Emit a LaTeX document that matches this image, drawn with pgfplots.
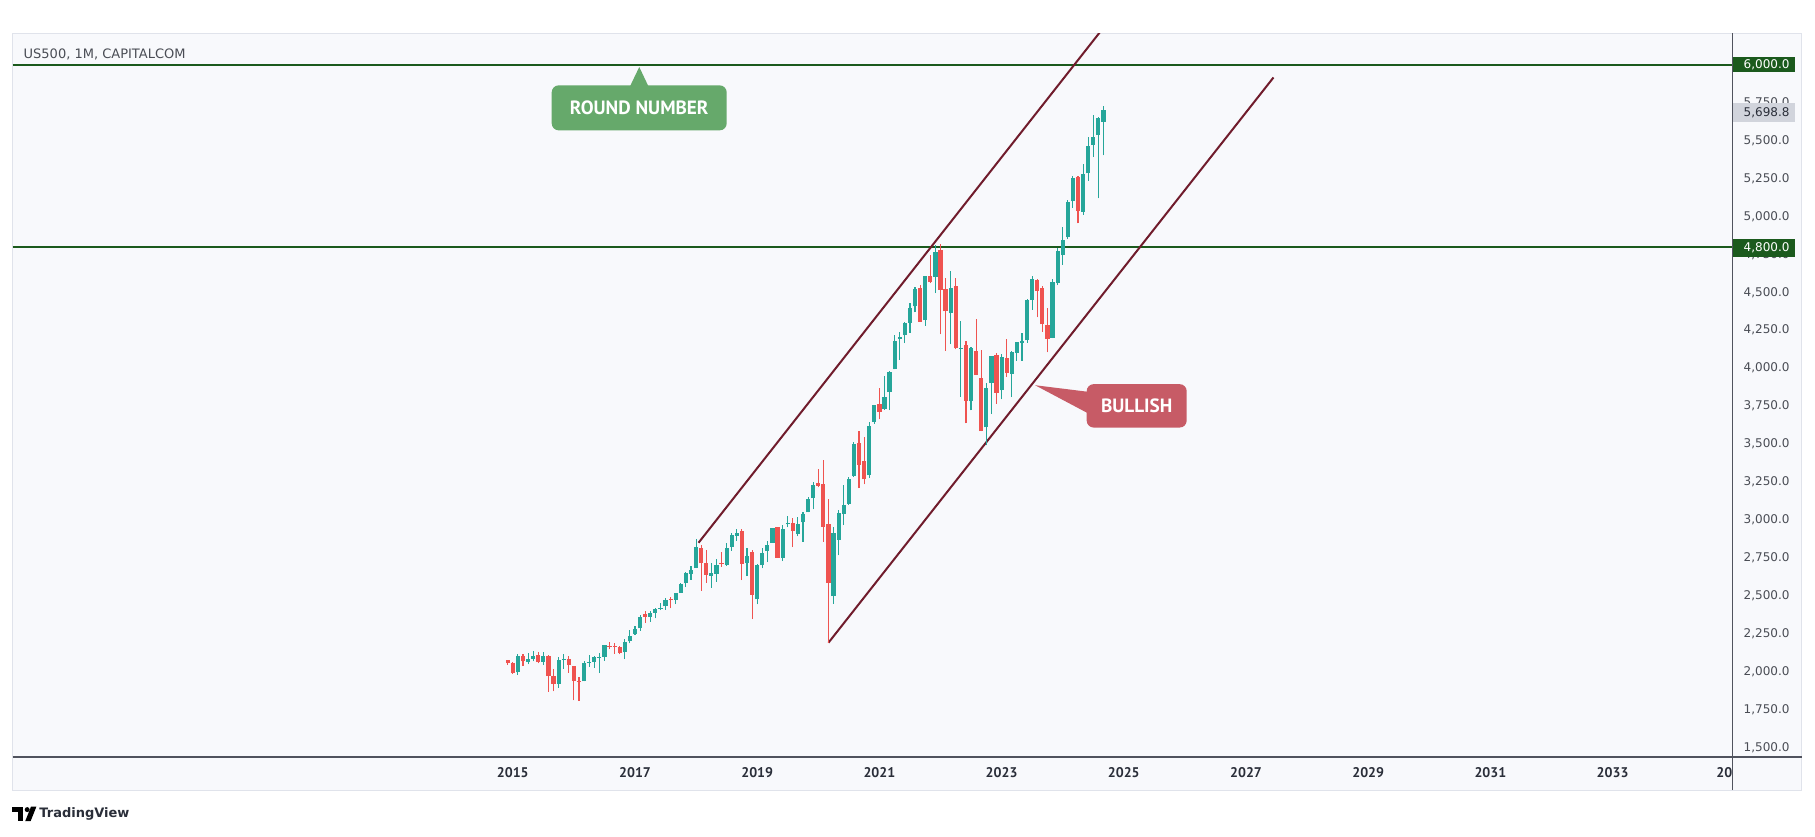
\documentclass[border=0pt]{standalone}
\usepackage{fontspec}
\setmainfont{DejaVu Sans}
\newfontfamily\ptsans{PT Sans}
\usepackage{pgfplots}
\pgfplotsset{compat=1.18}
\usepackage{pgfplotstable}
\definecolor{tvup}{HTML}{26A69A}
\definecolor{tvdown}{HTML}{EF5350}
\definecolor{chan}{HTML}{701C2C}
\definecolor{hl}{HTML}{1B5A1D}
\definecolor{rngreen}{HTML}{66A96B}
\definecolor{bullred}{HTML}{C75B66}
\definecolor{panebg}{HTML}{F8F9FC}
\definecolor{paneborder}{HTML}{E0E3EB}
\definecolor{axline}{HTML}{50535E}
\definecolor{axgray}{HTML}{4A4D55}
\definecolor{axtext}{HTML}{2A2E39}
\definecolor{lastbg}{HTML}{D1D4DC}

% monthly candles, US500 (yr, mo, open, high, low, close)
\pgfplotstableread{
yr mo o h l c
2015 2 1996.7 2119.6 1980.9 2104.5
2015 4 2067.6 2125.9 2048.4 2085.5
2015 5 2087.4 2134.7 2067.9 2107.4
2015 7 2067.0 2132.8 2044.0 2104.0
2015 10 1919.7 2094.3 1893.7 2079.4
2015 11 2079.0 2116.5 2019.4 2083.0
2016 3 1937.1 2072.2 1937.1 2059.7
2016 4 2056.6 2111.1 2033.8 2065.3
2016 5 2067.2 2103.5 2025.9 2097.0
2016 6 2093.9 2120.6 1991.7 2098.9
2016 7 2099.3 2177.1 2074.0 2173.6
2016 11 2128.7 2214.1 2083.8 2198.8
2016 12 2200.2 2277.5 2187.4 2238.8
2017 1 2251.6 2301.0 2245.1 2278.9
2017 2 2285.6 2371.5 2271.7 2363.6
2017 4 2362.3 2398.2 2329.0 2384.2
2017 5 2388.5 2418.7 2352.7 2411.8
2017 6 2415.6 2453.8 2405.7 2423.4
2017 7 2431.4 2484.0 2407.7 2470.3
2017 9 2474.4 2519.4 2446.6 2519.4
2017 10 2521.2 2583.0 2520.4 2575.3
2017 11 2583.2 2657.7 2557.5 2647.6
2017 12 2645.1 2695.0 2605.5 2673.6
2018 1 2683.7 2872.9 2682.4 2823.8
2018 4 2633.5 2717.5 2553.8 2648.1
2018 5 2643.0 2742.2 2594.6 2705.3
2018 7 2705.0 2848.0 2699.0 2816.3
2018 8 2821.2 2916.5 2796.3 2901.5
2018 9 2897.0 2940.9 2864.1 2914.0
2018 11 2717.6 2815.2 2631.1 2760.2
2019 1 2477.0 2709.0 2444.0 2704.1
2019 2 2702.3 2813.5 2681.8 2784.5
2019 3 2798.2 2860.3 2722.3 2834.4
2019 4 2848.6 2949.5 2848.6 2945.8
2019 6 2751.5 2964.2 2728.8 2941.8
2019 7 2971.4 3028.0 2952.2 2980.4
2019 9 2909.0 3022.0 2891.9 2976.7
2019 10 2983.7 3050.1 2855.9 3037.6
2019 11 3050.7 3154.3 3050.7 3141.0
2019 12 3143.9 3247.9 3070.3 3230.8
2020 4 2498.1 2954.9 2447.5 2912.4
2020 5 2869.1 3068.7 2766.6 3044.3
2020 6 3038.8 3233.1 2965.7 3100.3
2020 7 3105.9 3280.0 3101.2 3271.1
2020 8 3288.3 3514.8 3284.5 3500.3
2020 11 3296.2 3646.0 3279.7 3621.6
2020 12 3645.9 3760.2 3633.4 3756.1
2021 2 3731.2 3950.4 3725.6 3811.2
2021 3 3842.5 3983.9 3723.3 3972.9
2021 4 3992.8 4218.8 3992.8 4181.2
2021 5 4192.0 4238.0 4056.9 4204.1
2021 6 4216.5 4302.4 4164.4 4297.5
2021 7 4300.7 4430.0 4233.1 4395.3
2021 8 4406.9 4537.4 4367.7 4522.7
2021 10 4317.2 4608.1 4278.9 4605.4
2021 12 4602.8 4808.9 4495.1 4766.2
2022 3 4363.1 4637.3 4157.9 4530.4
2022 5 4130.6 4307.7 3810.3 4132.2
2022 7 3781.0 4140.2 3721.6 4130.3
2022 10 3609.8 3905.4 3491.6 3872.0
2022 11 3901.8 4080.1 3698.2 4080.1
2023 1 3853.3 4094.2 3794.3 4076.6
2023 3 3963.3 4110.8 3808.9 4109.3
2023 4 4102.2 4170.1 4048.3 4169.5
2023 5 4166.8 4231.1 4048.3 4179.8
2023 6 4183.0 4458.5 4166.2 4450.4
2023 7 4450.5 4607.1 4385.1 4589.0
2023 11 4201.3 4587.6 4197.7 4567.8
2023 12 4559.4 4793.3 4546.5 4769.8
2024 1 4745.2 4931.1 4682.1 4845.7
2024 2 4861.1 5111.1 4853.5 5096.3
2024 3 5098.5 5264.9 5056.8 5254.4
2024 5 5029.0 5341.9 5011.0 5277.5
2024 6 5283.4 5523.6 5234.3 5460.5
2024 7 5471.1 5669.7 5391.0 5522.3
2024 8 5537.8 5651.6 5119.3 5648.4
2024 9 5623.9 5725.0 5402.6 5698.8
}\upcandles

\pgfplotstableread{
yr mo o h l c
2014 12 2075.0 2080.0 2046.0 2058.0
2015 1 2058.9 2064.4 1988.4 1995.0
2015 3 2105.2 2117.5 2039.7 2067.9
2015 6 2108.6 2129.9 2056.3 2063.1
2015 8 2104.5 2112.7 1867.0 1972.2
2015 9 1970.1 2020.9 1871.9 1920.0
2015 12 2082.9 2104.3 1993.3 2043.9
2016 1 2038.2 2038.2 1812.3 1940.2
2016 2 1936.9 1963.0 1810.1 1932.2
2016 8 2173.2 2193.8 2147.6 2171.0
2016 9 2171.3 2187.9 2119.1 2168.3
2016 10 2164.3 2169.6 2114.7 2126.2
2017 3 2380.1 2401.0 2322.3 2362.7
2017 8 2477.1 2490.9 2417.4 2471.7
2018 2 2816.5 2836.0 2532.7 2713.8
2018 3 2715.2 2801.9 2585.9 2640.9
2018 6 2718.7 2791.5 2692.0 2718.4
2018 10 2926.3 2939.9 2603.5 2711.7
2018 12 2790.5 2800.2 2346.6 2506.9
2019 5 2952.3 2954.1 2750.5 2752.1
2019 8 2980.3 3013.6 2822.1 2926.5
2020 1 3244.7 3337.8 3214.6 3225.5
2020 2 3235.7 3393.5 2855.8 2954.2
2020 3 2974.3 3136.7 2191.9 2584.6
2020 9 3507.4 3588.1 3209.5 3363.0
2020 10 3385.9 3549.9 3233.9 3270.0
2021 1 3764.6 3870.9 3662.7 3714.2
2021 9 4528.8 4545.9 4305.9 4307.5
2021 11 4610.6 4743.8 4560.0 4567.0
2022 1 4778.1 4818.6 4222.6 4515.6
2022 2 4519.6 4595.3 4114.7 4373.9
2022 4 4540.3 4593.5 4124.3 4131.9
2022 6 4149.8 4177.5 3636.9 3785.4
2022 8 4112.4 4325.3 3954.5 3955.0
2022 9 3936.7 4119.3 3584.1 3585.6
2022 12 4087.1 4101.0 3764.5 3839.5
2023 2 4070.1 4195.4 3943.1 3970.2
2023 8 4578.8 4584.6 4335.3 4507.7
2023 9 4530.6 4541.3 4238.6 4288.1
2023 10 4284.5 4393.6 4103.8 4193.8
2024 4 5258.0 5264.0 4953.6 5035.7
}\downcandles

\begin{document}
\begin{tikzpicture}[x=1pt,y=1pt]
\path[use as bounding box] (0,0) rectangle (907.5,-418);
\fill[white] (0,0) rectangle (907.5,-418);
\filldraw[fill=panebg, draw=paneborder, line width=0.5pt] (6.35,-16.5) rectangle (900.85,-395);

\begin{axis}[
  at={(6.35pt,-378.5pt)}, anchor=south west,
  scale only axis, width=860pt, height=362pt,
  xmin=2006.815, xmax=2034.966, ymin=1438.7, ymax=6208,
  axis line style={draw=none},
  tick style={draw=none}, major tick length=0pt,
  clip mode=individual,
  xtick={2015,2017,2019,2021,2023,2025,2027,2029,2031,2033},
  xticklabels={2015,2017,2019,2021,2023,2025,2027,2029,2031,2033},
  extra x ticks={2034.966}, extra x tick labels={20},
  xticklabel style={font=\ptsans\bfseries\fontsize{7}{8}\selectfont, text=axtext, inner sep=0pt, anchor=north, yshift=-5.05pt},
  extra x tick style={xticklabel style={anchor=north east}},
  ytick={1500,1750,...,5750},
  yticklabel pos=right,
  yticklabel style={font=\fontsize{6}{7}\selectfont, text=axgray, inner sep=0pt, anchor=west, xshift=5.3pt,
    /pgf/number format/.cd, fixed, fixed zerofill, precision=1, 1000 sep={,}, assume math mode=true},
]
% horizontal levels
\addplot[hl, line width=1.05pt, forget plot] coordinates {(2006.815,6000) (2034.966,6000)};
\addplot[hl, line width=1.05pt, forget plot] coordinates {(2006.815,4800) (2034.966,4800)};
% channel
\addplot[chan, line width=1pt, forget plot] coordinates {(2018.04,2850) (2025.2,6516)};
\addplot[chan, line width=1pt, forget plot] coordinates {(2020.167,2192) (2027.45,5915)};

% wicks
\addplot[draw=none, mark=none, forget plot, error bars/.cd, y dir=plus, y explicit, error mark=none,
  error bar style={draw=tvup, line width=0.55pt}]
  table[x expr=\thisrow{yr}+(\thisrow{mo}-1)/12, y=l, y error plus expr=\thisrow{h}-\thisrow{l}] {\upcandles};
\addplot[draw=none, mark=none, forget plot, error bars/.cd, y dir=plus, y explicit, error mark=none,
  error bar style={draw=tvdown, line width=0.55pt}]
  table[x expr=\thisrow{yr}+(\thisrow{mo}-1)/12, y=l, y error plus expr=\thisrow{h}-\thisrow{l}] {\downcandles};
% bodies
\addplot[draw=none, mark=none, forget plot, error bars/.cd, y dir=plus, y explicit, error mark=none,
  error bar style={draw=tvup, line width=2.1pt}]
  table[x expr=\thisrow{yr}+(\thisrow{mo}-1)/12, y=o, y error plus expr=\thisrow{c}-\thisrow{o}] {\upcandles};
\addplot[draw=none, mark=none, forget plot, error bars/.cd, y dir=plus, y explicit, error mark=none,
  error bar style={draw=tvdown, line width=2.1pt}]
  table[x expr=\thisrow{yr}+(\thisrow{mo}-1)/12, y=c, y error plus expr=\thisrow{o}-\thisrow{c}] {\downcandles};

% annotations
\node[fill=rngreen, rounded corners=3.5pt, minimum width=87.5pt, minimum height=22.5pt, inner sep=0pt,
  text=white, font=\ptsans\bfseries\fontsize{9.6}{10}\selectfont] (rn) at (axis cs:2017.069,5715) {ROUND NUMBER};
\fill[rngreen] (axis cs:2017.07,5984) -- ([xshift=-4.75pt,yshift=-1pt]rn.north) -- ([xshift=4.75pt,yshift=-1pt]rn.north) -- cycle;

\node[fill=bullred, rounded corners=3.5pt, minimum width=50pt, minimum height=21.7pt, inner sep=0pt,
  text=white, font=\ptsans\bfseries\fontsize{9.6}{10}\selectfont] (bl) at (axis cs:2025.211,3752) {BULLISH};
\fill[bullred] (axis cs:2023.547,3888) -- ([xshift=1pt,yshift=7pt]bl.west) -- ([xshift=1pt,yshift=-3.8pt]bl.west) -- cycle;
\end{axis}

% axis lines
\draw[axline, line width=0.6pt] (6.35,-378.5) -- (900.85,-378.5);
\draw[axline, line width=0.6pt] (866.35,-16.5) -- (866.35,-395);

% price boxes on the scale
\fill[hl] (866.35,-28.65) rectangle (897.5,-35.85);
\node[anchor=west, inner sep=0pt, text=white, font=\fontsize{6}{7}\selectfont] at (871.65,-32.25) {6,000.0};
\fill[lastbg] (866.35,-51.65) rectangle (897.5,-60.85);
\node[anchor=west, inner sep=0pt, text=axtext, font=\fontsize{6}{7}\selectfont] at (871.65,-56.25) {5,698.8};
\fill[hl] (866.35,-119.65) rectangle (897.5,-128.35);
\node[anchor=west, inner sep=0pt, text=white, font=\fontsize{6}{7}\selectfont] at (871.65,-124) {4,800.0};

% title
\node[anchor=base west, inner sep=0pt, text=axgray, font=\fontsize{6.5}{7}\selectfont] at (11.65,-29.15) {US500, 1M, CAPITALCOM};

% TradingView mark
\fill[black] (6,-403.3) rectangle (11.6,-405.8);
\fill[black] (9,-403.3) rectangle (11.6,-410.6);
\fill[black] (13.6,-404.8) circle (1.25);
\fill[black] (12.6,-410.6) -- (15.3,-410.6) -- (18.2,-403.3) -- (15.5,-403.3) -- cycle;
\node[anchor=west, inner sep=0pt, text=axtext, font=\bfseries\fontsize{6.5}{7}\selectfont] at (19.5,-407) {TradingView};
\end{tikzpicture}
\end{document}
